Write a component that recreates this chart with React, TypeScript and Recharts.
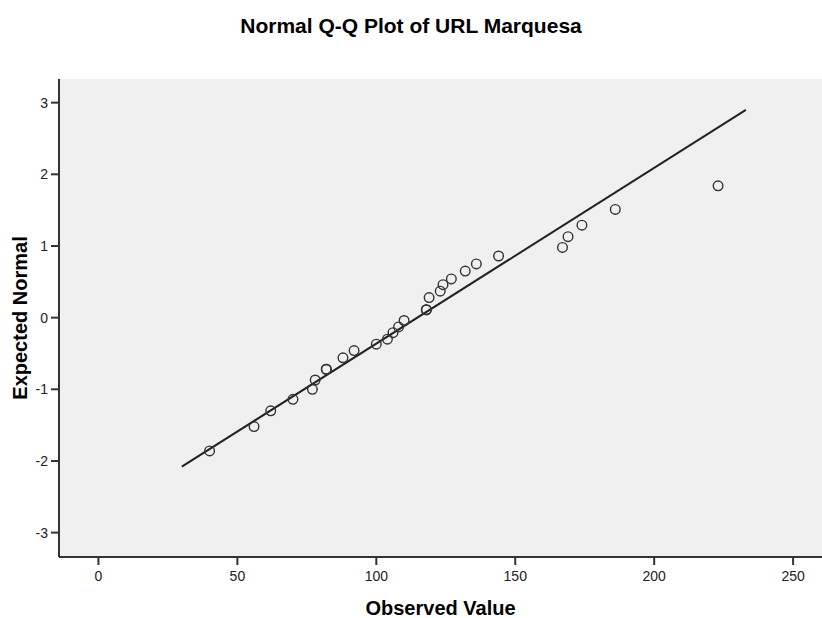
import { ScatterChart, Scatter, XAxis, YAxis, CartesianGrid } from "recharts";

// observed values vs expected normal quantiles
const observed = [40, 56, 62, 70, 77, 78, 82, 82, 88, 92, 100, 104, 106, 108, 110, 118, 118, 119, 123, 124, 127, 132, 136, 144, 167, 169, 174, 186, 223];
const expected = [-1.86, -1.52, -1.3, -1.14, -1.0, -0.87, -0.72, -0.72, -0.56, -0.46, -0.37, -0.3, -0.21, -0.13, -0.04, 0.11, 0.11, 0.28, 0.37, 0.46, 0.54, 0.65, 0.75, 0.86, 0.98, 1.13, 1.29, 1.51, 1.84];

// reference line endpoints
const lineX = [30, 233];
const lineY = [-2.08, 2.9];

const xTicks = [0, 50, 100, 150, 200, 250];
const yTicks = [-3, -2, -1, 0, 1, 2, 3];

const points = observed.map((x, i) => ({ x, y: expected[i] }));
const linePts = lineX.map((x, i) => ({ x, y: lineY[i] }));

const FONT = "'Liberation Sans', Arial, sans-serif";
const AXIS = "#333";

const Ring = (props: any) => {
  const { cx, cy } = props;
  if (cx == null || cy == null) return <g />;
  return <circle cx={cx} cy={cy} r={4.8} fill="none" stroke="#333" strokeWidth={1.4} />;
};

const Empty = () => <g />;

export default function App() {
  return (
    <div style={{ position: "absolute", left: 0, top: 0, width: 822, height: 618, background: "#fff", fontFamily: FONT }}>
      <div style={{ position: "absolute", top: 14, left: 0, width: 822, textAlign: "center", fontSize: 21, fontWeight: "bold", color: "#000" }}>
        Normal Q-Q Plot of URL Marquesa
      </div>
      <ScatterChart width={822} height={618} margin={{ top: 79, right: 0, bottom: 0, left: 0 }}>
        <CartesianGrid fill="#f0f0f0" horizontal={false} vertical={false} />
        <XAxis
          xAxisId="top"
          orientation="top"
          type="number"
          dataKey="x"
          domain={[-14.2, 260.4]}
          height={0}
          tick={false}
          tickLine={false}
          axisLine={{ stroke: AXIS, strokeWidth: 2 }}
        />
        <XAxis
          type="number"
          dataKey="x"
          domain={[-14.2, 260.4]}
          ticks={xTicks}
          height={61}
          tickSize={8}
          tickMargin={6}
          allowDataOverflow
          axisLine={{ stroke: AXIS, strokeWidth: 2 }}
          tickLine={{ stroke: AXIS, strokeWidth: 2 }}
          tick={{ fill: "#222", fontSize: 14, fontFamily: FONT }}
          label={{ value: "Observed Value", position: "insideBottom", offset: 3, fill: "#000", fontSize: 20, fontWeight: "bold", fontFamily: FONT }}
        />
        <YAxis
          type="number"
          dataKey="y"
          domain={[-3.34, 3.33]}
          ticks={yTicks}
          width={59}
          tickSize={8}
          tickMargin={3}
          allowDataOverflow
          axisLine={{ stroke: AXIS, strokeWidth: 2 }}
          tickLine={{ stroke: AXIS, strokeWidth: 2 }}
          tick={{ fill: "#222", fontSize: 14, fontFamily: FONT }}
          label={{ value: "Expected Normal", angle: -90, position: "insideLeft", offset: 20, style: { textAnchor: "middle" }, fill: "#000", fontSize: 20, fontWeight: "bold", fontFamily: FONT }}
        />
        <Scatter
          data={linePts}
          line={{ stroke: "#222", strokeWidth: 2 }}
          shape={<Empty />}
          isAnimationActive={false}
        />
        <Scatter data={points} shape={<Ring />} isAnimationActive={false} />
      </ScatterChart>
    </div>
  );
}
